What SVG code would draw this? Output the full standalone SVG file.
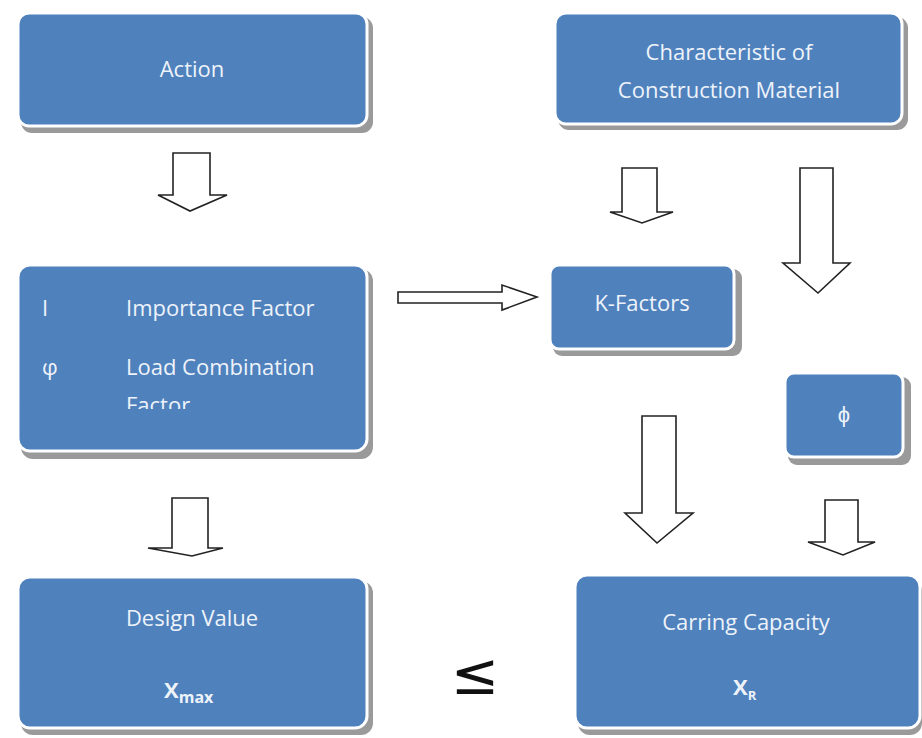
<svg xmlns="http://www.w3.org/2000/svg" width="922" height="738" viewBox="0 0 922 738">
<defs>
<style>
.sh{fill:#9a9a9a;}
.bx{fill:#4f81bd;stroke:#ffffff;stroke-width:3;}
.t{font-family:"Open Sans","Liberation Sans",sans-serif;font-size:22px;fill:#eef3fa;}
.c{text-anchor:middle;}
.b{font-weight:bold;}
.ar{fill:#ffffff;stroke:#222222;stroke-width:1.6;stroke-linejoin:miter;}
</style>
<clipPath id="clipImp"><rect x="18" y="265" width="350" height="144"/></clipPath>
</defs>
<rect width="922" height="738" fill="#ffffff"/>

<g id="connectors">
<path class="ar" d="M173,153 H210 V195 H227 L190,211 L158,195 H173 Z"/>
<path class="ar" d="M398,292 H502 V285 L537,297 L502,310 V303 H398 Z"/>
<path class="ar" d="M622,168 H657 V212 H673 L642,223 L610,212 H622 Z"/>
<path class="ar" d="M800,168 H833 V263 H850 L818,293 L783,263 H800 Z"/>
<path class="ar" d="M642,416 H676 V513 H693 L657,543 L625,513 H642 Z"/>
<path class="ar" d="M825,500 H858 V542 H875 L843,555 L808,542 H825 Z"/>
<path class="ar" d="M172,498 H208 V548 H223 L192,556 L148,548 H172 Z"/>
</g>

<g id="action">
<rect class="sh" x="21" y="17" width="352" height="116" rx="11"/>
<rect class="bx" x="18" y="13" width="349" height="113" rx="11"/>
<text class="t c" x="192" y="77">Action</text>
</g>

<g id="material">
<rect class="sh" x="558" y="17" width="350" height="113" rx="11"/>
<rect class="bx" x="555" y="13" width="347" height="111" rx="11"/>
<text class="t c" x="729" y="60">Characteristic of</text>
<text class="t c" x="729" y="98">Construction Material</text>
</g>

<g id="factors">
<rect class="sh" x="21" y="269" width="352" height="190" rx="12"/>
<rect class="bx" x="18" y="265" width="349" height="186" rx="12"/>
<g clip-path="url(#clipImp)">
<text class="t" x="42" y="316">I</text>
<text class="t" x="126" y="316">Importance Factor</text>
<text class="t" x="42" y="375">φ</text>
<text class="t" x="126" y="375">Load Combination</text>
<text class="t" x="126" y="413">Factor</text>
</g>
</g>

<g id="kfactors">
<rect class="sh" x="553" y="269" width="189" height="87" rx="9"/>
<rect class="bx" x="550" y="265" width="184" height="84" rx="9"/>
<text class="t c" x="642" y="311">K-Factors</text>
</g>

<g id="phi">
<rect class="sh" x="788" y="377" width="123" height="88" rx="9"/>
<rect class="bx" x="785" y="373" width="118" height="84" rx="9"/>
<text class="t c" x="844" y="422">ϕ</text>
</g>

<g id="design">
<rect class="sh" x="21" y="581" width="352" height="154" rx="12"/>
<rect class="bx" x="18" y="577" width="349" height="151" rx="12"/>
<text class="t c" x="192" y="626">Design Value</text>
<text class="t b" x="164" y="698" font-size="27">X<tspan font-size="16" dy="5">max</tspan></text>
</g>

<g id="capacity">
<rect class="sh" x="578" y="579" width="344" height="156" rx="12"/>
<rect class="bx" x="575" y="575" width="345" height="153" rx="12"/>
<text class="t c" x="746" y="630">Carring Capacity</text>
<text class="t b" x="733" y="695" font-size="25">X<tspan font-size="13" dy="5">R</tspan></text>
</g>

<text x="475" y="694" font-family="DejaVu Sans, sans-serif" font-size="58" text-anchor="middle" fill="#111111">≤</text>
</svg>
